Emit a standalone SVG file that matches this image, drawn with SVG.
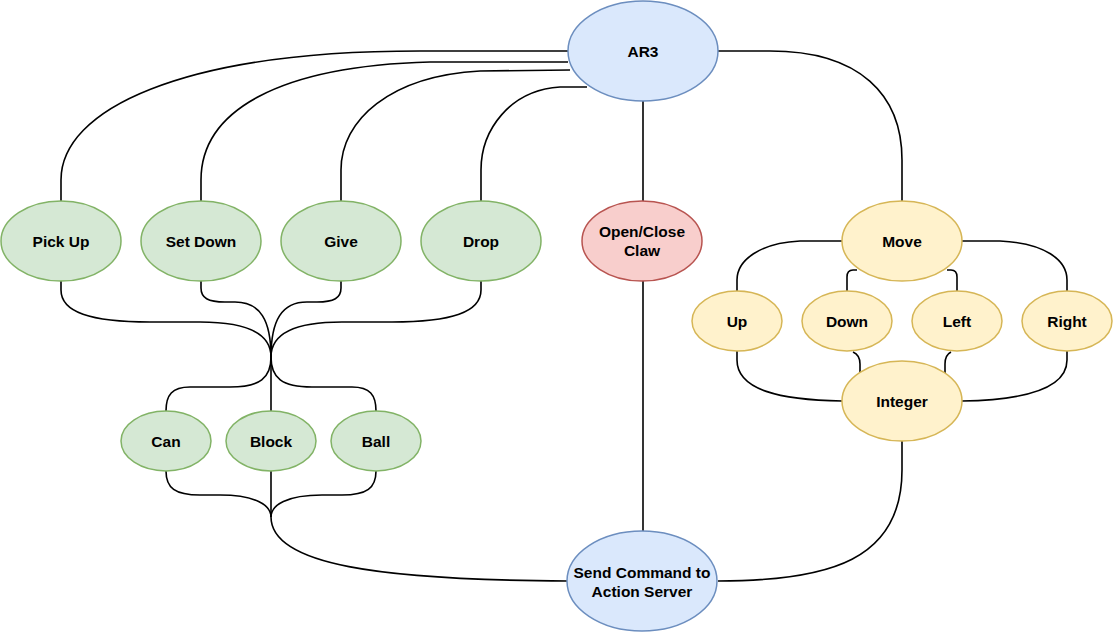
<svg xmlns="http://www.w3.org/2000/svg" width="1114" height="632" viewBox="0 0 1114 632">
<style>
.e{stroke-width:1.5}
.blue{fill:#dae8fc;stroke:#6c8ebf}
.green{fill:#d5e8d4;stroke:#82b366}
.red{fill:#f8cecc;stroke:#b85450}
.yellow{fill:#fff2cc;stroke:#d6b656}
.c path{fill:none;stroke:#000;stroke-width:1.6}
text{font-family:"Liberation Sans",Arial,sans-serif;font-size:15.5px;font-weight:bold;text-anchor:middle;fill:#000}
</style>
<rect width="1114" height="632" fill="#fff"/>
<g class="c" id="connectors">
<path d="M568,51 L420,51 C180,51 61,110 61,180 L61,201"/>
<path d="M568,62 L430,62 C280,66 201,110 201,180 L201,201"/>
<path d="M570,70 L480,71 C390,76 341,120 341,170 L341,201"/>
<path d="M587,87 L560,87 C510,90 481,130 481,170 L481,201"/>
<path d="M643,101 L643,201"/>
<path d="M718,51 L770,51 C860,51 902,95 902,160 L902,201"/>
<path d="M643,281 L643,531"/>
<path d="M61,281 L61,290 C61,312 90,322 150,322 L200,322 C250,322 271,335 271,357"/>
<path d="M201,281 L201,288 C201,298 208,302 225,302 L235,302 C260,302 271,320 271,357"/>
<path d="M341,281 L341,288 C341,298 334,302 317,302 L307,302 C282,302 271,320 271,357"/>
<path d="M481,281 L481,290 C481,312 452,322 392,322 L342,322 C292,322 271,335 271,357"/>
<path d="M271,357 C271,378 260,387 230,387 L190,387 C172,387 166,395 166,411"/>
<path d="M271,357 L271,411"/>
<path d="M271,357 C271,378 282,387 312,387 L352,387 C370,387 376,395 376,411"/>
<path d="M166,471 C166,488 175,495 200,495 L220,495 C255,495 271,505 271,517"/>
<path d="M271,471 L271,517"/>
<path d="M376,471 C376,488 367,495 342,495 L322,495 C287,495 271,505 271,517"/>
<path d="M271,517 C271,565 380,580 567,581"/>
<path d="M842,241 L800,241 C760,243 737,260 737,280 L737,291"/>
<path d="M962,241 L1000,241 C1045,243 1067,260 1067,280 L1067,291"/>
<path d="M857,270 L853,270 Q847,270 847,277 L847,291"/>
<path d="M947,270 L951,270 Q957,270 957,277 L957,291"/>
<path d="M737,351 L737,360 C737,390 780,400 842,401"/>
<path d="M1067,351 L1067,360 C1067,390 1020,400 962,401"/>
<path d="M853,352 Q860,355 860,364 L860,374"/>
<path d="M951,352 Q945,355 945,364 L945,374"/>
<path d="M902,441 L902,470 C902,560 830,581 718,581"/>
</g>
<g id="ar3"><ellipse class="e blue" cx="643" cy="51" rx="75" ry="50"/><text x="643" y="57">AR3</text></g>
<g id="pickup"><ellipse class="e green" cx="61" cy="241" rx="60" ry="40"/><text x="61" y="247">Pick Up</text></g>
<g id="setdown"><ellipse class="e green" cx="201" cy="241" rx="60" ry="40"/><text x="201" y="247">Set Down</text></g>
<g id="give"><ellipse class="e green" cx="341" cy="241" rx="60" ry="40"/><text x="341" y="247">Give</text></g>
<g id="drop"><ellipse class="e green" cx="481" cy="241" rx="60" ry="40"/><text x="481" y="247">Drop</text></g>
<g id="claw"><ellipse class="e red" cx="642" cy="241" rx="60" ry="40"/><text x="642" y="237">Open/Close</text><text x="642" y="256">Claw</text></g>
<g id="move"><ellipse class="e yellow" cx="902" cy="241" rx="60" ry="40"/><text x="902" y="247">Move</text></g>
<g id="up"><ellipse class="e yellow" cx="737" cy="321" rx="45" ry="30"/><text x="737" y="327">Up</text></g>
<g id="down"><ellipse class="e yellow" cx="847" cy="321" rx="45" ry="30"/><text x="847" y="327">Down</text></g>
<g id="left"><ellipse class="e yellow" cx="957" cy="321" rx="45" ry="30"/><text x="957" y="327">Left</text></g>
<g id="right"><ellipse class="e yellow" cx="1067" cy="321" rx="45" ry="30"/><text x="1067" y="327">Right</text></g>
<g id="integer"><ellipse class="e yellow" cx="902" cy="401" rx="60" ry="40"/><text x="902" y="407">Integer</text></g>
<g id="can"><ellipse class="e green" cx="166" cy="441" rx="45" ry="30"/><text x="166" y="447">Can</text></g>
<g id="block"><ellipse class="e green" cx="271" cy="441" rx="45" ry="30"/><text x="271" y="447">Block</text></g>
<g id="ball"><ellipse class="e green" cx="376" cy="441" rx="45" ry="30"/><text x="376" y="447">Ball</text></g>
<g id="send"><ellipse class="e blue" cx="642" cy="581" rx="75" ry="50"/><text x="642" y="578">Send Command to</text><text x="642" y="597">Action Server</text></g>
</svg>
